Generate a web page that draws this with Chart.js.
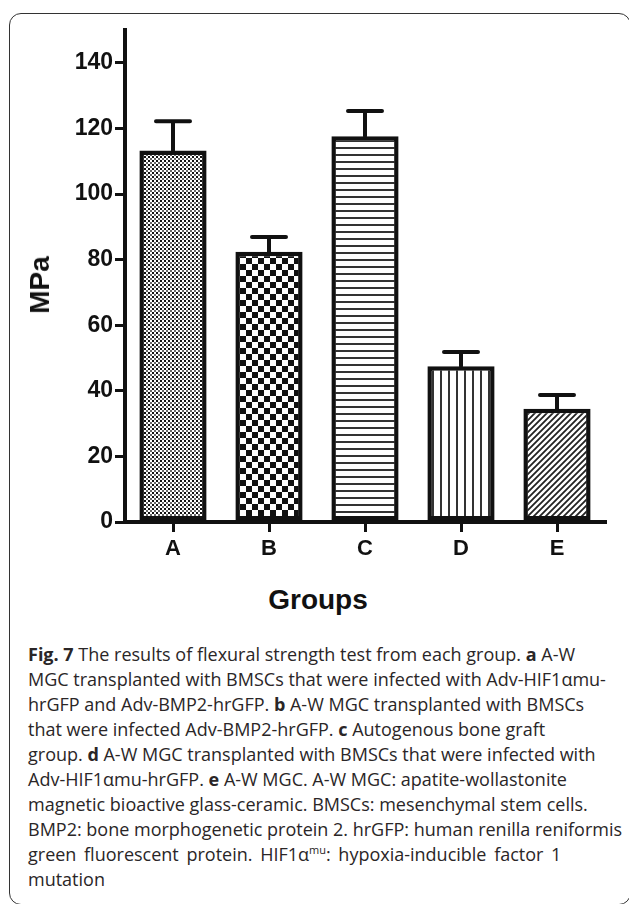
<!DOCTYPE html>
<html lang="en">
<head>
    <meta charset="UTF-8">
    <title>Flexural strength</title>
    <script src="https://cdn.jsdelivr.net/npm/chart.js"></script>
    <style>
        body {
            margin: 0;
            background: white;
            width: 629px;
            height: 904px;
            overflow: hidden;
            position: relative;
            font-family: "Liberation Sans", Arial, sans-serif;
        }
        #frame {
            position: absolute;
            left: 9px;
            top: 13px;
            width: 622px;
            height: 892px;
            border: 1.5px solid #333;
            border-radius: 12px;
            box-sizing: border-box;
        }
        #chartBox {
            position: absolute;
            left: 0;
            top: 0;
            width: 629px;
            height: 570px;
        }
        .axis-title {
            position: absolute;
            font-weight: bold;
            font-size: 28px;
            color: #111;
            white-space: nowrap;
        }
        #yTitle {
            left: 40px;
            top: 285px;
            transform: translate(-50%, -50%) rotate(-90deg);
        }
        #xTitle {
            left: 318px;
            top: 600px;
            transform: translate(-50%, -50%);
        }
        #caption {
            position: absolute;
            left: 28px;
            top: 642px;
            font-family: "Open Sans", sans-serif;
            font-size: 18px;
            line-height: 25px;
            color: #2a2627;
            white-space: nowrap;
        }
        #caption b { font-weight: bold; }
        sup { font-size: 11px; line-height: 0; }
    </style>
</head>
<body>
    <div id="frame"></div>
    <div id="chartBox"><canvas id="strengthChart"></canvas></div>
    <div class="axis-title" id="yTitle">MPa</div>
    <div class="axis-title" id="xTitle">Groups</div>
    <div id="caption">
        <div><b>Fig. 7</b> The results of flexural strength test from each group. <b>a</b> A-W</div>
        <div>MGC transplanted with BMSCs that were infected with Adv-HIF1αmu-</div>
        <div>hrGFP and Adv-BMP2-hrGFP. <b>b</b> A-W MGC transplanted with BMSCs</div>
        <div>that were infected Adv-BMP2-hrGFP. <b>c</b> Autogenous bone graft</div>
        <div>group. <b>d</b> A-W MGC transplanted with BMSCs that were infected with</div>
        <div>Adv-HIF1αmu-hrGFP. <b>e</b> A-W MGC. A-W MGC: apatite-wollastonite</div>
        <div>magnetic bioactive glass-ceramic. BMSCs: mesenchymal stem cells.</div>
        <div>BMP2: bone morphogenetic protein 2. hrGFP: human renilla reniformis</div>
        <div style="word-spacing: 3px;">green fluorescent protein. HIF1α<sup>mu</sup>: hypoxia-inducible factor 1</div>
        <div>mutation</div>
    </div>

    <script>
        // data
        const groups = ['A', 'B', 'C', 'D', 'E'];
        const meanValues = [113.3, 82.4, 117.6, 47.5, 34.5];
        const errorValues = [8.9, 4.5, 7.7, 4.3, 4.2];
        const yTicks = [0, 20, 40, 60, 80, 100, 120, 140];

        // fill patterns for each bar
        function makePattern(size, draw) {
            const c = document.createElement('canvas');
            c.width = size;
            c.height = size;
            const g = c.getContext('2d');
            g.fillStyle = 'white';
            g.fillRect(0, 0, size, size);
            draw(g, size);
            return g.createPattern(c, 'repeat');
        }

        const patterns = [
            // fine checker
            makePattern(4, (g) => {
                g.fillStyle = '#111';
                g.fillRect(0, 0, 2, 2);
                g.fillStyle = '#666';
                g.fillRect(2, 2, 2, 2);
            }),
            // coarse checker
            makePattern(12, (g) => {
                g.fillStyle = '#111';
                g.fillRect(0, 0, 6, 6);
                g.fillRect(6, 6, 6, 6);
            }),
            // horizontal lines
            makePattern(7, (g) => {
                g.fillStyle = '#333';
                g.fillRect(0, 0, 7, 2);
            }),
            // vertical lines
            makePattern(8, (g) => {
                g.fillStyle = '#333';
                g.fillRect(0, 0, 2, 8);
            }),
            // diagonal hatch
            makePattern(6, (g) => {
                g.strokeStyle = '#222';
                g.lineWidth = 1.8;
                g.beginPath();
                g.moveTo(-1, 7); g.lineTo(7, -1);
                g.moveTo(-4, 4); g.lineTo(4, -4);
                g.moveTo(2, 10); g.lineTo(10, 2);
                g.stroke();
            })
        ];

        // upper error bars (mean + SEM)
        const errorBars = {
            id: 'errorBars',
            afterDatasetsDraw(chart) {
                const ctx = chart.ctx;
                const meta = chart.getDatasetMeta(0);
                const y = chart.scales.y;
                ctx.save();
                ctx.strokeStyle = '#111';
                ctx.lineWidth = 4;
                ctx.lineCap = 'round';
                meta.data.forEach((bar, i) => {
                    const top = y.getPixelForValue(meanValues[i] + errorValues[i]);
                    ctx.beginPath();
                    ctx.moveTo(bar.x, bar.y);
                    ctx.lineTo(bar.x, top);
                    ctx.moveTo(bar.x - 17, top);
                    ctx.lineTo(bar.x + 17, top);
                    ctx.stroke();
                });
                ctx.restore();
            }
        };

        const ctx = document.getElementById('strengthChart').getContext('2d');
        const strengthChart = new Chart(ctx, {
            type: 'bar',
            data: {
                labels: groups,
                datasets: [{
                    data: meanValues,
                    backgroundColor: patterns,
                    borderColor: '#111',
                    borderWidth: 4.5,
                    borderSkipped: false,
                    barPercentage: 0.7,
                    categoryPercentage: 1
                }]
            },
            options: {
                responsive: true,
                maintainAspectRatio: false,
                animation: false,
                layout: { padding: { left: 0, right: 24, top: 30, bottom: 0 } },
                plugins: {
                    legend: { display: false },
                    tooltip: { enabled: false }
                },
                scales: {
                    x: {
                        grid: {
                            offset: false,
                            drawOnChartArea: false,
                            drawTicks: true,
                            tickLength: 10,
                            lineWidth: 3,
                            color: '#111'
                        },
                        border: { display: true, color: '#111', width: 4 },
                        ticks: {
                            color: '#111',
                            padding: 4,
                            font: { family: 'Liberation Sans', weight: 'bold', size: 22 }
                        },
                        afterFit(scale) { scale.height = 48; }
                    },
                    y: {
                        min: 0,
                        max: 150,
                        afterBuildTicks(scale) {
                            scale.ticks = yTicks.map(v => ({ value: v }));
                        },
                        grid: {
                            drawOnChartArea: false,
                            drawTicks: true,
                            tickLength: 10,
                            lineWidth: 3,
                            color: '#111'
                        },
                        border: { display: true, color: '#111', width: 4 },
                        ticks: {
                            color: '#111',
                            padding: 2,
                            font: { family: 'Liberation Sans', weight: 'bold', size: 23 }
                        },
                        afterFit(scale) { scale.width = 125; }
                    }
                }
            },
            plugins: [errorBars]
        });
    </script>
</body>
</html>
